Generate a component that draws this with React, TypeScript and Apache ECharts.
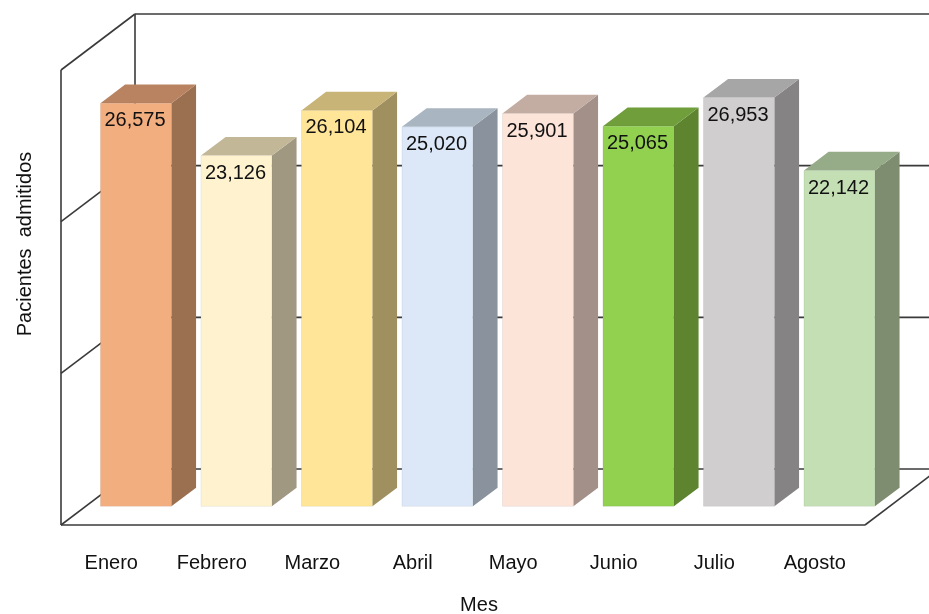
import React, { useEffect, useRef } from "react";
import * as echarts from "echarts";

const categories = ["Enero", "Febrero", "Marzo", "Abril", "Mayo", "Junio", "Julio", "Agosto"];
const patients = [26575, 23126, 26104, 25020, 25901, 25065, 26953, 22142];
const yTicks = [0, 10000, 20000, 30000];
const xTitle = "Mes";
const yTitle = "Pacientes  admitidos";

const frontColors = ["#F3AE80", "#FFF2CE", "#FFE597", "#DCE8F7", "#FDE4D9", "#92D050", "#D0CECF", "#C4DFB4"];
const sideColors = ["#9A7050", "#A09880", "#A09060", "#8A939D", "#A39088", "#5E8430", "#858384", "#7E8C6F"];
const topColors = ["#B98260", "#C2B898", "#C9B477", "#A9B5C0", "#C3ACA2", "#6F9E3B", "#A6A6A6", "#96AC88"];

// oblique depth vector (full depth of the chart box)
const DX = 74;
const DY = -56;
const D_FRONT = 1 / 3;
const D_BACK = 2 / 3;
const BAR_RATIO = 0.706;
const FONT = 'Arial, "Liberation Sans", sans-serif';
const LINE = "#3a3a3a";

function fmt(n: number) {
  return n.toLocaleString("en-US");
}

export default function App() {
  const ref = useRef<HTMLDivElement>(null);
  useEffect(() => {
    if (!ref.current) return;
    const chart = echarts.init(ref.current, undefined, { renderer: "svg" });
    const yMin = yTicks[0];
    const yMax = yTicks[yTicks.length - 1];

    const wallSeries = {
      type: "custom",
      z: 1,
      clip: false,
      silent: true,
      data: yTicks.map((v) => [0, v]),
      renderItem: (params: any, api: any) => {
        const cs = params.coordSys;
        const left = cs.x;
        const right = cs.x + cs.width;
        const v = api.value(1);
        const y = api.coord([0, v])[1];
        const style = { stroke: LINE, lineWidth: 1.6, fill: null };
        const children: any[] = [
          { type: "line", shape: { x1: left, y1: y, x2: left + DX, y2: y + DY }, style },
          { type: "line", shape: { x1: left + DX, y1: y + DY, x2: right + DX, y2: y + DY }, style },
        ];
        if (v === yMin) {
          const yTop = api.coord([0, yMax])[1];
          children.push(
            { type: "line", shape: { x1: left, y1: y, x2: right, y2: y }, style },
            { type: "line", shape: { x1: right, y1: y, x2: right + DX, y2: y + DY }, style },
            { type: "line", shape: { x1: left, y1: yTop, x2: left, y2: y }, style },
            { type: "line", shape: { x1: left + DX, y1: yTop + DY, x2: left + DX, y2: y + DY }, style }
          );
        }
        return { type: "group", children };
      },
    };

    const barSeries = {
      type: "custom",
      z: 5,
      clip: false,
      data: patients.map((v, i) => [i, v]),
      renderItem: (params: any, api: any) => {
        const i = api.value(0);
        const v = api.value(1);
        const base = api.coord([i, 0]);
        const top = api.coord([i, v]);
        const band = api.size([1, 0])[0];
        const w = band * BAR_RATIO;
        const ox = D_FRONT * DX;
        const oy = D_FRONT * DY;
        const ddx = (D_BACK - D_FRONT) * DX;
        const ddy = (D_BACK - D_FRONT) * DY;
        const x0 = base[0] - w / 2 + ox;
        const x1 = x0 + w;
        const yT = top[1] + oy;
        const yB = base[1] + oy;
        const idx = params.dataIndex;
        return {
          type: "group",
          children: [
            {
              type: "polygon",
              shape: { points: [[x1, yT], [x1 + ddx, yT + ddy], [x1 + ddx, yB + ddy], [x1, yB]] },
              style: { fill: sideColors[idx] },
            },
            {
              type: "polygon",
              shape: { points: [[x0, yT], [x0 + ddx, yT + ddy], [x1 + ddx, yT + ddy], [x1, yT]] },
              style: { fill: topColors[idx] },
            },
            {
              type: "rect",
              shape: { x: x0, y: yT, width: w, height: yB - yT },
              style: { fill: frontColors[idx], stroke: "rgba(0,0,0,0.06)", lineWidth: 1 },
            },
            {
              type: "text",
              x: x0 + 4,
              y: yT + 6,
              style: {
                text: fmt(v),
                fill: "#111",
                font: `20px ${FONT}`,
                textAlign: "left",
                textVerticalAlign: "top",
              },
            },
          ],
        };
      },
    };

    chart.setOption({
      animation: false,
      grid: { left: 61, top: 70, width: 804, height: 455, containLabel: false },
      xAxis: {
        type: "category",
        data: categories,
        axisLine: { show: false },
        axisTick: { show: false },
        splitLine: { show: false },
        axisLabel: { color: "#111", fontSize: 20, fontFamily: FONT, margin: 27 },
      },
      yAxis: {
        type: "value",
        min: yMin,
        max: yMax,
        interval: yTicks[1] - yTicks[0],
        show: false,
      },
      graphic: [
        {
          type: "text",
          x: 479,
          y: 604,
          style: { text: xTitle, font: `20px ${FONT}`, fill: "#111", textAlign: "center", textVerticalAlign: "middle" },
        },
        {
          type: "text",
          x: 24,
          y: 244,
          rotation: Math.PI / 2,
          style: { text: yTitle, font: `20px ${FONT}`, fill: "#111", textAlign: "center", textVerticalAlign: "middle" },
        },
      ],
      series: [wallSeries, barSeries],
    });
    return () => chart.dispose();
  }, []);
  return <div ref={ref} style={{ position: "fixed", left: 0, top: 0, width: 929, height: 614 }} />;
}
